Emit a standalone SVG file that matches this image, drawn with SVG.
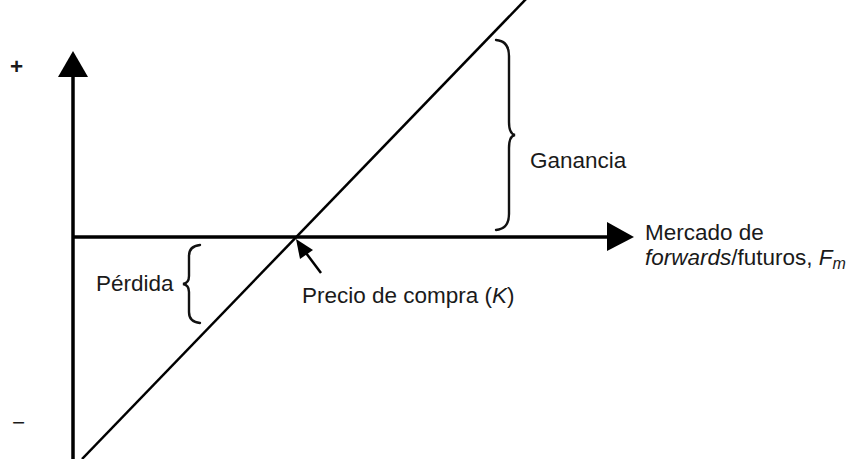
<svg xmlns="http://www.w3.org/2000/svg" width="859" height="459" viewBox="0 0 859 459">
<style>
text{font-family:"Liberation Sans",Arial,sans-serif;font-size:22.5px;fill:#1a1a1a}
.ax{stroke:#000;stroke-width:3.5;fill:none}
.ln{stroke:#000;stroke-width:2.5;fill:none}
.br{stroke:#111;stroke-width:2.4;fill:none;stroke-linecap:round}
.hd{fill:#000}
</style>
<rect width="859" height="459" fill="#fff"/>
<g id="connectors">
<line class="ax" x1="73" y1="459" x2="73" y2="70"/>
<polygon class="hd" points="73,51 58,77 88,77"/>
<line class="ax" x1="73" y1="237" x2="612" y2="237"/>
<polygon class="hd" points="634,237 607,222 607,251"/>
<line class="ln" x1="82" y1="459" x2="527" y2="-2"/>
<line class="ln" x1="321" y1="273" x2="303" y2="249"/>
<polygon class="hd" points="296,239 313,250 300,259"/>
</g>
<g id="axis-labels">
<text x="10" y="74" font-size="26" font-weight="bold">+</text>
<text x="12" y="430" font-size="26" fill="#444">−</text>
</g>
<g id="ganancia">
<path class="br" d="M496,40 Q509,41 509,56 L509,122 Q509,134 515,135 Q509,136 509,148 L509,214 Q509,229 496,230"/>
<text x="530" y="168">Ganancia</text>
</g>
<g id="perdida">
<path class="br" d="M200,245 Q189,246 189,256 L189,276 Q189,283 183,284 Q189,285 189,292 L189,312 Q189,322 200,323"/>
<text x="96" y="291">Pérdida</text>
</g>
<g id="precio">
<text x="302" y="303">Precio de compra (<tspan font-style="italic">K</tspan>)</text>
</g>
<g id="mercado">
<text x="645" y="240">Mercado de</text>
<text x="645" y="265"><tspan font-style="italic">forwards</tspan>/futuros, <tspan font-style="italic">F</tspan><tspan font-style="italic" font-size="16" dy="4">m</tspan></text>
</g>
</svg>
